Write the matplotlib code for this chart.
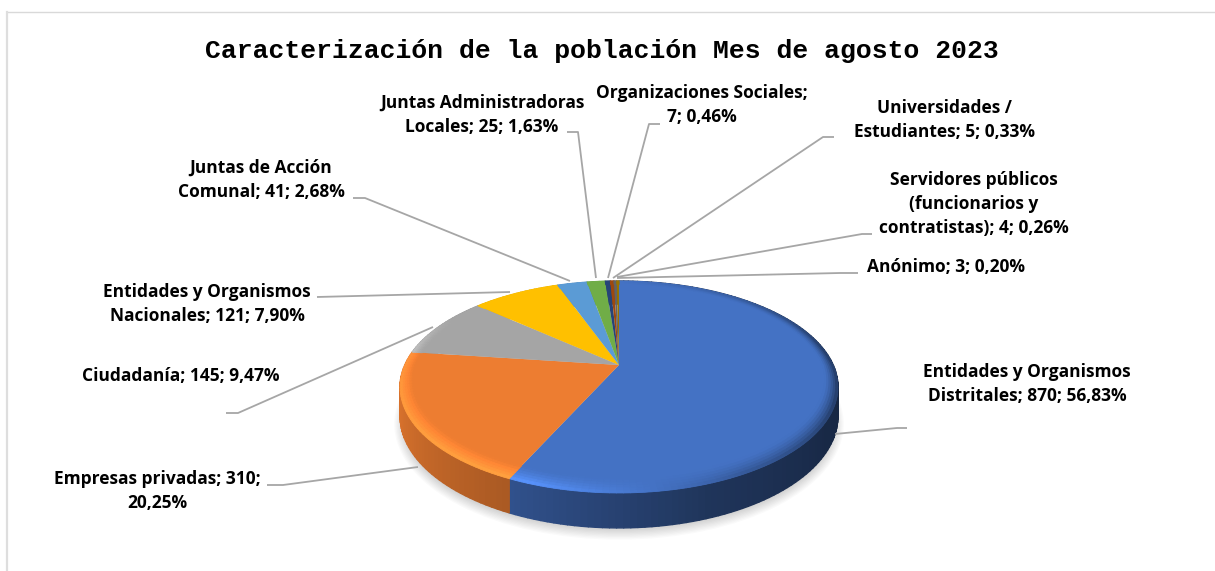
#!/usr/bin/env python
"""Caracterización de la población - pie 3D con etiquetas y líneas guía."""
import matplotlib
matplotlib.use("Agg")
import matplotlib.pyplot as plt
import matplotlib.transforms as mtransforms
import numpy as np
from matplotlib.collections import PolyCollection
from matplotlib.patches import Ellipse

categories = [
    "Entidades y Organismos Distritales", "Empresas privadas", "Ciudadanía",
    "Entidades y Organismos Nacionales", "Juntas de Acción Comunal",
    "Juntas Administradoras Locales", "Organizaciones Sociales",
    "Universidades / Estudiantes", "Servidores públicos (funcionarios y contratistas)",
    "Anónimo",
]
values = [870, 310, 145, 121, 41, 25, 7, 5, 4, 3]
label_texts = [
    "Entidades y Organismos\nDistritales; 870; 56,83%",
    "Empresas privadas; 310;\n20,25%",
    "Ciudadanía; 145; 9,47%",
    "Entidades y Organismos\nNacionales; 121; 7,90%",
    "Juntas de Acción\nComunal; 41; 2,68%",
    "Juntas Administradoras\nLocales; 25; 1,63%",
    "Organizaciones Sociales;\n7; 0,46%",
    "Universidades /\nEstudiantes; 5; 0,33%",
    "Servidores públicos\n(funcionarios y\ncontratistas); 4; 0,26%",
    "Anónimo; 3; 0,20%",
]
colors = ["#4472C4", "#ED7D31", "#A5A5A5", "#FFC000", "#5B9BD5",
          "#70AD47", "#264478", "#9E480E", "#636363", "#997300"]
title = "Caracterización de la población Mes de agosto 2023"

# posición de las etiquetas (centro, en píxeles de la imagen)
label_pos = [(1027, 384), (157, 491), (181, 376), (207, 304), (261, 180),
             (482, 115), (702, 105), (944, 120), (974, 204), (946, 267)]
leaders = [
    [(907, 428), (897, 428), (835, 434)],
    [(267, 485), (283, 485), (418, 467)],
    [(226, 413), (238, 413), (433, 327)],
    [(317, 297), (510, 292)],
    [(353, 198), (365, 198), (570, 281)],
    [(567, 132), (578, 132), (596, 278)],
    [(660, 124), (649, 124), (608, 278)],
    [(834, 137), (823, 137), (613, 278)],
    [(872, 234), (862, 234), (617, 277)],
    [(858, 273), (840, 273), (617, 278)],
]

# geometría del disco en perspectiva (píxeles)
CX, CY = 619.0, 365.0
A, B, K = 214.2, 101.4, 0.2076
DEPTH = 27.7
W, H = 1215, 571


def project(x, y, z=0.0):
    den = 1.0 + K * np.asarray(y)
    return CX + A * np.asarray(x) / den, CY - B * np.asarray(y) / den + z / den


class PiePerspective(mtransforms.Transform):
    input_dims = output_dims = 2
    is_separable = False

    def transform_non_affine(self, xy):
        xy = np.asarray(xy)
        px, py = project(xy[:, 0], xy[:, 1])
        return np.column_stack([px, py])


def shade(rgb, amount):
    return np.clip(np.asarray(rgb) * (1 + amount), 0, 1)


def side_and_rim(ax, wedges):
    side_polys, side_cols, rim_polys, rim_cols = [], [], [], []
    ring_steps = np.linspace(0, 1, 7)
    for w, c in zip(wedges, colors):
        rgb = matplotlib.colors.to_rgb(c)
        t1, t2 = w.theta1, w.theta2
        n = max(int((t2 - t1) / 1.5), 1)
        th = np.linspace(t1, t2, n + 1)
        for a, b in zip(th[:-1], th[1:]):
            mid = (0.5 * (a + b) - 90) % 360 + 90
            ra, rb = np.radians([a, b])
            x = np.cos([ra, rb])
            y = np.sin([ra, rb])
            # cara lateral
            m = np.interp(mid, [90, 170, 200, 245, 290, 330, 370, 450],
                          [.9, .95, .9, .72, .46, .36, .33, .5])
            tx, ty = project(x, y)
            bx, by = project(x, y, DEPTH)
            side_polys.append(np.column_stack([[tx[0], tx[1], bx[1], bx[0]],
                                               [ty[0], ty[1], by[1], by[0]]]))
            side_cols.append(np.asarray(rgb) * m)
            # bisel del borde superior, más ancho hacia el frente
            sv = np.interp(mid, [90, 150, 175, 220, 250, 275, 300, 340, 370, 410, 450],
                           [0, 0, .2, .3, .32, .03, -.25, -.5, -.5, -.2, 0])
            width = 0.05 + 0.05 * np.clip(-y, 0, 1)
            for f0, f1 in zip(ring_steps[:-1], ring_steps[1:]):
                ix, iy = project((1 - width * (1 - f0)) * x, (1 - width * (1 - f0)) * y)
                ox, oy = project((1 - width * (1 - f1)) * x, (1 - width * (1 - f1)) * y)
                rim_polys.append(np.column_stack([[ix[0], ix[1], ox[1], ox[0]],
                                                  [iy[0], iy[1], oy[1], oy[0]]]))
                rim_cols.append(shade(rgb, sv * (0.5 * (f0 + f1)) ** 1.5))
    ax.add_collection(PolyCollection(side_polys, facecolors=side_cols, edgecolors="face",
                                     linewidths=1.0, zorder=2))
    ax.add_collection(PolyCollection(rim_polys, facecolors=rim_cols, edgecolors="face",
                                     linewidths=0.6, zorder=4))


def main():
    fig = plt.figure(figsize=(W / 100, H / 100), dpi=100, facecolor="white")
    ax = fig.add_axes([0, 0, 1, 1])

    # sombra difusa
    for i in range(10):
        ax.add_patch(Ellipse((619, 424), 2 * (214 + i * 1.2), 2 * (104 + i * 1.3),
                             facecolor="black", edgecolor="none", alpha=0.02, zorder=1))

    wedges, _ = ax.pie(values, colors=colors, startangle=90, counterclock=False,
                       wedgeprops={"linewidth": 0})
    persp = PiePerspective()
    for w in wedges:
        w.set_transform(persp + ax.transData)
        w.set_zorder(3)
    side_and_rim(ax, wedges)

    ax.set_aspect("auto")
    ax.set_xlim(0, W)
    ax.set_ylim(H, 0)
    ax.set_axis_off()

    # marco del gráfico
    ax.plot([7, W], [11.5, 11.5], color="#d9d9d9", lw=1.0, zorder=0)
    ax.plot([7, 7], [11.5, H], color="#dedede", lw=1.6, zorder=0)

    for pts in leaders:
        xs, ys = zip(*pts)
        ax.plot(xs, ys, color="#a6a6a6", lw=1.3, zorder=5, solid_capstyle="butt")

    for txt, (x, y) in zip(label_texts, label_pos):
        ax.text(x, y, txt, ha="center", va="center", multialignment="center",
                family="Open Sans", fontweight="bold", fontsize=12.5, color="black",
                linespacing=1.42, zorder=6)

    ax.text(602, 58, title, ha="center", va="baseline", family="Liberation Mono",
            fontweight="bold", fontsize=19, color="black", zorder=6)

    fig.savefig("out.png", dpi=100, facecolor="white")
    plt.close(fig)


if __name__ == "__main__":
    main()
